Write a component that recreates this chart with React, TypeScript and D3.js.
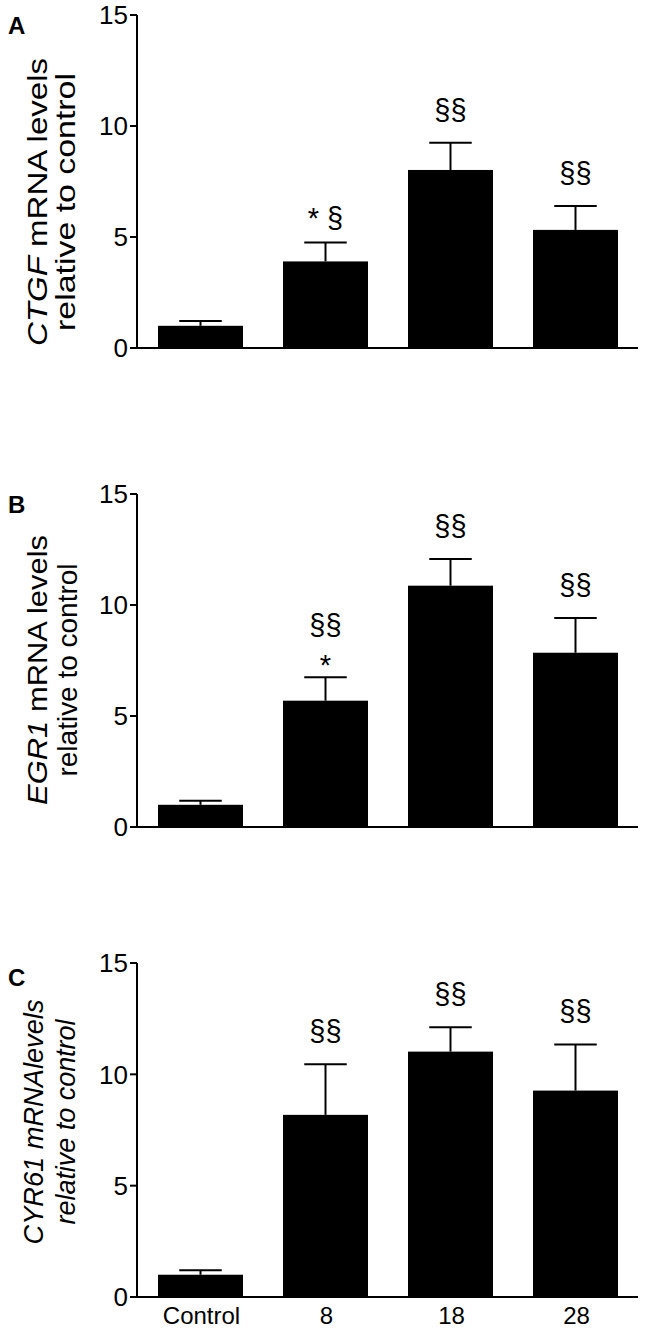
import React from "react";
import * as d3 from "d3";

const categories = ["Control", "8", "18", "28"];
const yTicks = [0, 5, 10, 15];

const ctgfMeans = [1.0, 3.9, 8.02, 5.32];
const ctgfSem = [0.22, 0.85, 1.23, 1.08];
const ctgfMarks = [[], ["* §"], ["§§"], ["§§"]];

const egr1Means = [1.0, 5.69, 10.87, 7.85];
const egr1Sem = [0.18, 1.05, 1.2, 1.56];
const egr1Marks = [[], ["§§", "*"], ["§§"], ["§§"]];

const cyr61Means = [1.0, 8.18, 11.02, 9.27];
const cyr61Sem = [0.2, 2.27, 1.1, 2.07];
const cyr61Marks = [[], ["§§"], ["§§"], ["§§"]];

const FONT = "'Liberation Sans', Arial, Helvetica, sans-serif";

type Seg = { t: string; i?: boolean };
type PanelCfg = {
  letter: string;
  letterY: number;
  top: number;
  bottom: number;
  means: number[];
  sem: number[];
  marks: string[][];
  line1: Seg[];
  line2: Seg[];
  l1x: number;
  l2x: number;
  titleY: number;
  l1len: number;
  l2len: number;
  showX: boolean;
};

const panels: PanelCfg[] = [
  {
    letter: "A", letterY: 34, top: 15, bottom: 348,
    means: ctgfMeans, sem: ctgfSem, marks: ctgfMarks,
    line1: [{ t: "CTGF", i: true }, { t: " mRNA levels" }],
    line2: [{ t: "relative to control" }],
    l1x: 47, l2x: 75, titleY: 202, l1len: 288, l2len: 258, showX: false,
  },
  {
    letter: "B", letterY: 513, top: 494, bottom: 827,
    means: egr1Means, sem: egr1Sem, marks: egr1Marks,
    line1: [{ t: "EGR1", i: true }, { t: " mRNA levels" }],
    line2: [{ t: "relative to control" }],
    l1x: 47, l2x: 77, titleY: 670, l1len: 270, l2len: 213, showX: false,
  },
  {
    letter: "C", letterY: 986, top: 963, bottom: 1297,
    means: cyr61Means, sem: cyr61Sem, marks: cyr61Marks,
    line1: [{ t: "CYR61 mRNAlevels", i: true }],
    line2: [{ t: "relative to control", i: true }],
    l1x: 43, l2x: 75, titleY: 1122, l1len: 245, l2len: 205, showX: true,
  },
];

const AXIS_X = 137;
const X_END = 638;

function Panel({ p }: { p: PanelCfg }) {
  const x = d3
    .scaleBand<string>()
    .domain(categories)
    .range([138, 638])
    .paddingInner(0.32)
    .paddingOuter(0.16);
  const y = d3.scaleLinear().domain([0, 15]).range([p.bottom, p.top]);
  const bw = x.bandwidth();

  const gapFor = (s: string) => (s === "*" ? 2 : s.includes("*") ? 15 : 23);

  return (
    <g>
      <text x={8} y={p.letterY} fontFamily={FONT} fontWeight="bold" fontSize={24} fill="#000">
        {p.letter}
      </text>
      <text
        transform={`translate(${p.l1x},${p.titleY}) rotate(-90)`}
        textAnchor="middle"
        fontFamily={FONT}
        fontSize={28}
        textLength={p.l1len}
        lengthAdjust="spacingAndGlyphs"
        fill="#000"
      >
        {p.line1.map((s, k) => (
          <tspan key={k} fontStyle={s.i ? "italic" : "normal"}>
            {s.t}
          </tspan>
        ))}
      </text>
      <text
        transform={`translate(${p.l2x},${p.titleY}) rotate(-90)`}
        textAnchor="middle"
        fontFamily={FONT}
        fontSize={28}
        textLength={p.l2len}
        lengthAdjust="spacingAndGlyphs"
        fill="#000"
      >
        {p.line2.map((s, k) => (
          <tspan key={k} fontStyle={s.i ? "italic" : "normal"}>
            {s.t}
          </tspan>
        ))}
      </text>
      {categories.map((c, i) => (
        <rect
          key={c}
          x={x(c)}
          y={y(p.means[i])}
          width={bw}
          height={y(0) - y(p.means[i])}
          fill="#000"
        />
      ))}
      {categories.map((c, i) => {
        const cx = (x(c) as number) + bw / 2;
        const top = y(p.means[i] + p.sem[i]);
        return (
          <g key={c} stroke="#000" strokeWidth={2}>
            <line x1={cx} x2={cx} y1={y(p.means[i])} y2={top} />
            <line x1={cx - bw / 4} x2={cx + bw / 4} y1={top} y2={top} />
          </g>
        );
      })}
      {categories.map((c, i) => {
        const cx = (x(c) as number) + bw / 2;
        const top = y(p.means[i] + p.sem[i]);
        const lines = p.marks[i];
        if (!lines.length) return null;
        const n = lines.length;
        const baseBottom = top - gapFor(lines[n - 1]);
        return (
          <g key={c}>
            {lines.map((s, k) => (
              <text
                key={k}
                x={cx}
                y={baseBottom - (n - 1 - k) * 40}
                textAnchor="middle"
                fontFamily={FONT}
                fontSize={29}
                fill="#000"
              >
                {s}
              </text>
            ))}
          </g>
        );
      })}
      <line x1={AXIS_X} x2={AXIS_X} y1={y(0)} y2={y(15)} stroke="#000" strokeWidth={2} />
      <line x1={AXIS_X - 1} x2={X_END} y1={y(0)} y2={y(0)} stroke="#000" strokeWidth={2} />
      {yTicks.map((t) => (
        <g key={t}>
          <line x1={AXIS_X - 7} x2={AXIS_X} y1={y(t)} y2={y(t)} stroke="#000" strokeWidth={2} />
          <text
            x={128}
            y={y(t)}
            dy="0.36em"
            textAnchor="end"
            fontFamily={FONT}
            fontSize={26}
            fill="#000"
          >
            {t}
          </text>
        </g>
      ))}
      {p.showX &&
        categories.map((c) => (
          <text
            key={c}
            x={(x(c) as number) + bw / 2 + 1}
            y={1324}
            textAnchor="middle"
            fontFamily={FONT}
            fontSize={24}
            fill="#000"
          >
            {c}
          </text>
        ))}
    </g>
  );
}

export default function App() {
  return (
    <svg
      width={646}
      height={1330}
      style={{ position: "absolute", left: 0, top: 0, background: "#fff" }}
    >
      <rect width={646} height={1330} fill="#fff" />
      {panels.map((p) => (
        <Panel key={p.letter} p={p} />
      ))}
    </svg>
  );
}
